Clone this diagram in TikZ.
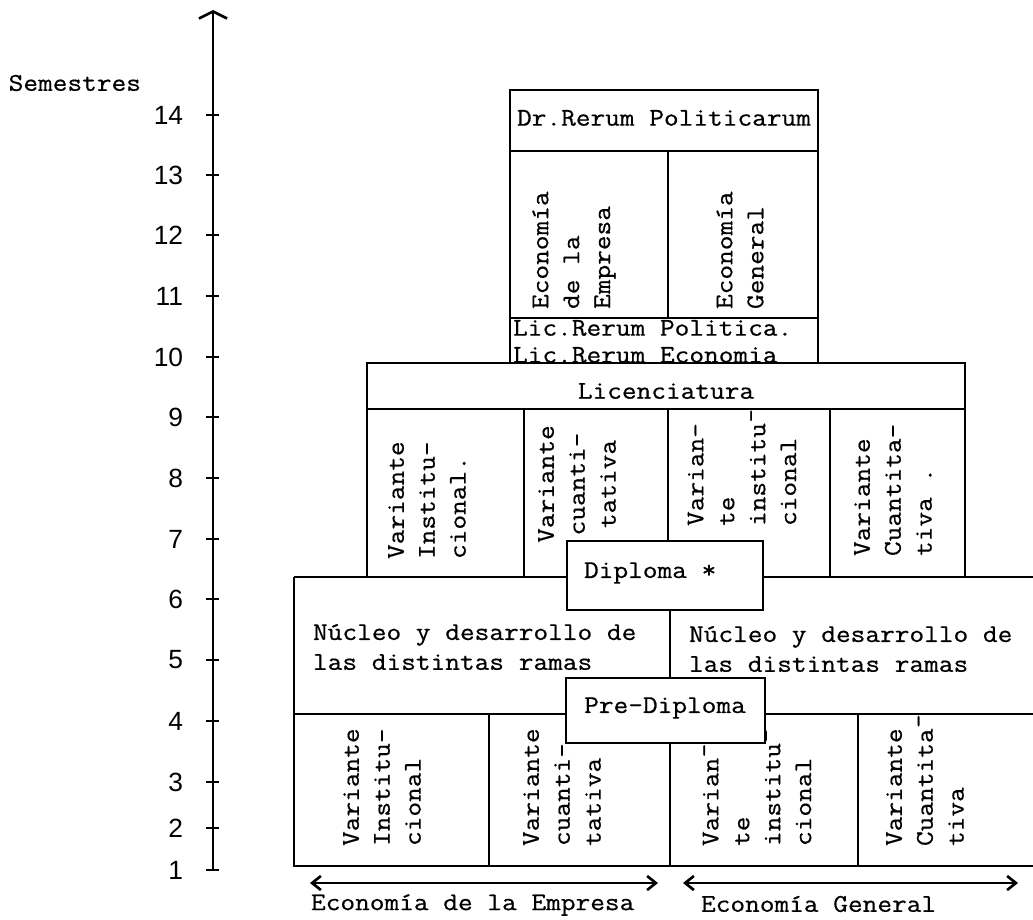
\documentclass[tikz,border=0pt]{standalone}
\usepackage{fontspec}
\setmainfont{Latin Modern Mono}[FakeStretch=1.12, FakeBold=0.6]
\setsansfont{Liberation Sans}
\usetikzlibrary{arrows.meta}

\begin{document}
\begin{tikzpicture}[x=0.02cm, y=-0.02cm, line width=1.2pt,
    vtext/.style={rotate=90, anchor=west, align=left, inner sep=0pt,
        font=\fontsize{14.5}{17.6}\selectfont},
    htext/.style={align=left, inner sep=0pt, font=\fontsize{14.5}{17}\selectfont},
    semlabel/.style={anchor=east, font=\sffamily\fontsize{15}{18}\selectfont},
    barb/.style={line width=1.5pt, {Straight Barb[length=5pt,width=8pt]}-{Straight Barb[length=5pt,width=8pt]}}]

    \useasboundingbox (0,0) rectangle (1033,919);

    % axis of semesters
    \coordinate (axbot) at (213,870);
    \coordinate (axtop) at (213,10);
    \draw[line width=1.5pt, -{Straight Barb[length=4pt,width=16pt]}] (axbot) -- (axtop);
    \foreach \s/\y in {14/115,13/175,12/235,11/296,10/357,9/417,8/478,7/539,6/599,5/660,4/721,3/782,2/828,1/870}
    {
        \draw (206,\y) -- (219,\y);
        \node[semlabel] (sem\s) at (190,\y) {\s};
    }
    \node[htext, anchor=east] (semestres) at (142,83) {Semestres};

    % doctorate block
    \draw (510,90) rectangle (818,363);
    \draw (510,151) -- (818,151);
    \draw (510,318) -- (818,318);
    \draw (668,151) -- (668,318);
    \node[htext] (drrer) at (664,118) {Dr.Rerum Politicarum};
    \node[vtext] (docemp) at (574,310) {Economía\\de la\\Empresa};
    \node[vtext] (docgen) at (740,310) {Economía\\General};
    \node[htext, anchor=west] (licpol) at (512,328) {Lic.Rerum Politica.};
    \node[htext, anchor=west] (liceco) at (512,355) {Lic.Rerum Economia};

    % licenciatura block
    \draw (367,577) -- (367,363) -- (965,363) -- (965,577);
    \draw (367,409) -- (965,409);
    \draw (524,409) -- (524,577);
    \draw (668,409) -- (668,541);
    \draw (830,409) -- (830,577);
    \node[htext] (lic) at (666,391) {Licenciatura};
    \node[vtext] (licinst1) at (427,560) {Variante\\Institu-\\cional.};
    \node[vtext, anchor=center, align=center] (liccuan1) at (577,484) {Variante\\cuanti-\\tativa};
    \node[vtext] (licinst2) at (742,527) {Varian-\\te\\institu¯\\cional};
    \node[vtext] (liccuan2) at (893,557) {Variante\\Cuantita-\\tiva .};

    % diploma box
    \draw (567,541) rectangle (763,610);
    \node[htext, anchor=west] (dipl) at (583,573) {Diploma *};

    % base block
    \draw (294,577) -- (567,577);
    \draw (763,577) -- (1033,577);
    \draw (294,577) -- (294,866) -- (1033,866);
    \draw (294,714) -- (566,714);
    \draw (765,714) -- (1033,714);
    \draw (670,610) -- (670,678);
    \draw (670,743) -- (670,866);
    \draw (489,714) -- (489,866);
    \draw (858,714) -- (858,866);
    \node[htext, anchor=west] (nucemp) at (312,647) {Núcleo y desarrollo de\\las distintas ramas};
    \node[htext, anchor=west] (nucgen) at (688,649) {Núcleo y desarrollo de\\las distintas ramas};

    % pre-diploma box
    \draw[fill=white] (566,678) rectangle (765,743);
    \node[htext] (predipl) at (665,708) {Pre-Diploma};

    \node[vtext] (preinst1) at (382,847) {Variante\\Institu-\\cional};
    \node[vtext] (precuan1) at (562,847) {Variante\\cuanti-\\tativa};
    \node[vtext] (preinst2) at (757,847) {Varian¯\\te\\institu¯\\cional};
    \node[vtext] (precuan2) at (925,847) {Variante\\Cuantita¯\\tiva};

    % branches
    \coordinate (empL) at (310,883);
    \coordinate (empR) at (658,883);
    \coordinate (genL) at (683,883);
    \coordinate (genR) at (1018,883);
    \draw[barb] (empL) -- (empR);
    \draw[barb] (genL) -- (genR);
    \node[htext, anchor=west] (ramaemp) at (310,905) {Economía de la Empresa};
    \node[htext, anchor=west] (ramagen) at (700,904) {Economía General};
\end{tikzpicture}
\end{document}
